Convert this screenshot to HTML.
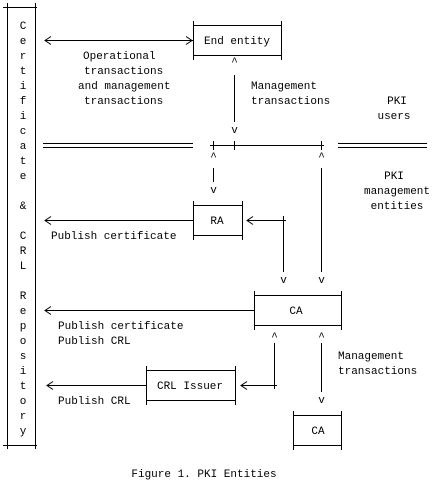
<!DOCTYPE html>
<html><head><meta charset="utf-8"><style>
html,body{margin:0;padding:0;background:#fff;}
svg{display:block;}
text{font-family:"Liberation Mono",monospace;font-size:11px;fill:#000;}
.c{text-anchor:middle;}
</style></head><body>
<svg width="437" height="486" viewBox="0 0 437 486" xmlns="http://www.w3.org/2000/svg">
<g stroke="#000" stroke-width="1" fill="none" shape-rendering="crispEdges">
<!-- left repository box -->
<line x1="3" y1="7.5" x2="37" y2="7.5"/><line x1="3" y1="445.5" x2="37" y2="445.5"/>
<line x1="7.5" y1="3" x2="7.5" y2="449"/><line x1="35.5" y1="3" x2="35.5" y2="449"/>
<!-- End entity box -->
<rect x="193.5" y="25.5" width="88" height="30"/>
<line x1="193.5" y1="21" x2="193.5" y2="60"/><line x1="281.5" y1="21" x2="281.5" y2="60"/>
<!-- RA box -->
<rect x="193.5" y="205.5" width="49" height="30"/>
<line x1="193.5" y1="201" x2="193.5" y2="240"/><line x1="242.5" y1="201" x2="242.5" y2="240"/>
<!-- CA1 -->
<rect x="254.5" y="295.5" width="87" height="30"/>
<line x1="254.5" y1="291" x2="254.5" y2="330"/><line x1="341.5" y1="291" x2="341.5" y2="330"/>
<!-- CRL issuer -->
<rect x="146.5" y="370.5" width="89" height="30"/>
<line x1="146.5" y1="366" x2="146.5" y2="405"/><line x1="235.5" y1="366" x2="235.5" y2="405"/>
<!-- CA2 -->
<rect x="293.5" y="415.5" width="48" height="30"/>
<line x1="293.5" y1="411" x2="293.5" y2="450"/><line x1="341.5" y1="411" x2="341.5" y2="450"/>
<!-- row 9 -->
<line x1="43" y1="143.5" x2="193" y2="143.5"/><line x1="43" y1="147.5" x2="193" y2="147.5"/>
<line x1="338" y1="143.5" x2="427" y2="143.5"/><line x1="338" y1="147.5" x2="427" y2="147.5"/>
<line x1="210" y1="145.5" x2="324" y2="145.5"/>
<line x1="213.5" y1="141" x2="213.5" y2="150"/><line x1="234.5" y1="141" x2="234.5" y2="150"/><line x1="321.5" y1="141" x2="321.5" y2="150"/>
<!-- EE vertical -->
<line x1="234.5" y1="75" x2="234.5" y2="122"/>
<!-- x213 -->
<line x1="213.5" y1="168" x2="213.5" y2="182"/>
<!-- x321 upper -->
<line x1="321.5" y1="168" x2="321.5" y2="272"/>
<!-- x283 -->
<line x1="283.5" y1="216" x2="283.5" y2="272"/>
<!-- row14 arrows -->
<line x1="45" y1="220.5" x2="193" y2="220.5"/>
<line x1="247" y1="220.5" x2="286" y2="220.5"/>
<!-- row2 arrow -->
<line x1="45" y1="40.5" x2="193" y2="40.5"/>
<!-- row20 -->
<line x1="45" y1="310.5" x2="254" y2="310.5"/>
<!-- x274 -->
<line x1="274.5" y1="343" x2="274.5" y2="389"/>
<!-- row25 -->
<line x1="47" y1="385.5" x2="146" y2="385.5"/>
<line x1="241" y1="385.5" x2="277" y2="385.5"/>
<!-- x321 lower -->
<line x1="321.5" y1="343" x2="321.5" y2="392"/>
</g>
<g stroke="#000" stroke-width="1" fill="none">
<polyline points="51,36.5 45,40.5 51,44.5"/>
<polyline points="186,36.5 192,40.5 186,44.5"/>
<polyline points="51,216.5 45,220.5 51,224.5"/>
<polyline points="253,216.5 247,220.5 253,224.5"/>
<polyline points="51,306.5 45,310.5 51,314.5"/>
<polyline points="53,381.5 47,385.5 53,389.5"/>
<polyline points="247,381.5 241,385.5 247,389.5"/>
</g>
<g style="font-size:9px" class="c">
<text x="234.5" y="65" class="c">^</text>
<text x="234.5" y="133" class="c">v</text>
<text x="213.5" y="160" class="c">^</text>
<text x="321.5" y="160" class="c">^</text>
<text x="213.5" y="193" class="c">v</text>
<text x="283.5" y="283" class="c">v</text>
<text x="321.5" y="283" class="c">v</text>
<text x="274.5" y="340" class="c">^</text>
<text x="321.5" y="340" class="c">^</text>
<text x="321.5" y="403" class="c">v</text>
</g>
<!-- left letters -->
<g class="c">
<text x="23" y="29" class="c">C</text>
<text x="23" y="44" class="c">e</text>
<text x="23" y="59" class="c">r</text>
<text x="23" y="74" class="c">t</text>
<text x="23" y="89" class="c">i</text>
<text x="23" y="104" class="c">f</text>
<text x="23" y="119" class="c">i</text>
<text x="23" y="134" class="c">c</text>
<text x="23" y="149" class="c">a</text>
<text x="23" y="164" class="c">t</text>
<text x="23" y="179" class="c">e</text>
<text x="23" y="209" class="c">&amp;</text>
<text x="23" y="239" class="c">C</text>
<text x="23" y="254" class="c">R</text>
<text x="23" y="269" class="c">L</text>
<text x="23" y="299" class="c">R</text>
<text x="23" y="314" class="c">e</text>
<text x="23" y="329" class="c">p</text>
<text x="23" y="344" class="c">o</text>
<text x="23" y="359" class="c">s</text>
<text x="23" y="374" class="c">i</text>
<text x="23" y="389" class="c">t</text>
<text x="23" y="404" class="c">o</text>
<text x="23" y="419" class="c">r</text>
<text x="23" y="434" class="c">y</text>
</g>
<text x="204" y="44">End entity</text>
<text x="83" y="59">Operational</text>
<text x="84" y="74">transactions</text>
<text x="78" y="89">and management</text>
<text x="84" y="104">transactions</text>
<text x="251" y="89">Management</text>
<text x="251" y="104">transactions</text>
<text x="397" y="104" class="c">PKI</text>
<text x="394" y="119" class="c">users</text>
<text x="394" y="179" class="c">PKI</text>
<text x="397" y="194" class="c">management</text>
<text x="397" y="209" class="c">entities</text>
<text x="217" y="224" class="c">RA</text>
<text x="51" y="239">Publish certificate</text>
<text x="296" y="314" class="c">CA</text>
<text x="58" y="329">Publish certificate</text>
<text x="58" y="344">Publish CRL</text>
<text x="338" y="359">Management</text>
<text x="338" y="374">transactions</text>
<text x="190" y="389" class="c">CRL Issuer</text>
<text x="58" y="404">Publish CRL</text>
<text x="318" y="434" class="c">CA</text>
<text x="204" y="477" class="c">Figure 1. PKI Entities</text>
</svg>
</body></html>
